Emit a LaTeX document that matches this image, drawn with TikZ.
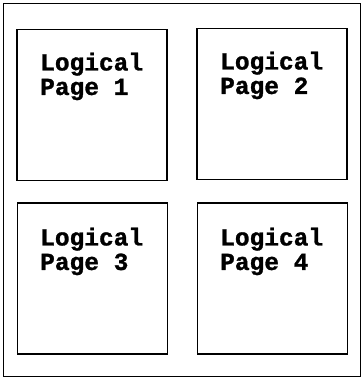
\documentclass[tikz,border=0pt]{standalone}
\usepackage{fontspec}
\setmonofont{Liberation Mono}[BoldFeatures={FakeBold=1.2}]
\tikzset{
  page/.style={draw, line width=1.6pt, minimum width=150pt, minimum height=151pt, inner sep=0pt},
  lbl/.style={anchor=north west, inner sep=0pt, align=left, font=\ttfamily\bfseries\fontsize{24.5pt}{24.5pt}\selectfont},
  frame/.style={draw, line width=0.9pt}
}
\begin{document}
\begin{tikzpicture}[x=1pt,y=-1pt]
\useasboundingbox (0,0) rectangle (362,378);
\draw[frame] (3,3) rectangle (360,376);
\node[page] (p1) at (92,105) {};
\node[page] (p2) at (272,104) {};
\node[page] (p3) at (92.5,278.5) {};
\node[page] (p4) at (272.5,278.5) {};
\node[lbl] (t1) at (40,52.5) {Logical\\Page 1};
\node[lbl] (t2) at (220,51.5) {Logical\\Page 2};
\node[lbl] (t3) at (40,227.5) {Logical\\Page 3};
\node[lbl] (t4) at (220,227.5) {Logical\\Page 4};
\end{tikzpicture}
\end{document}
